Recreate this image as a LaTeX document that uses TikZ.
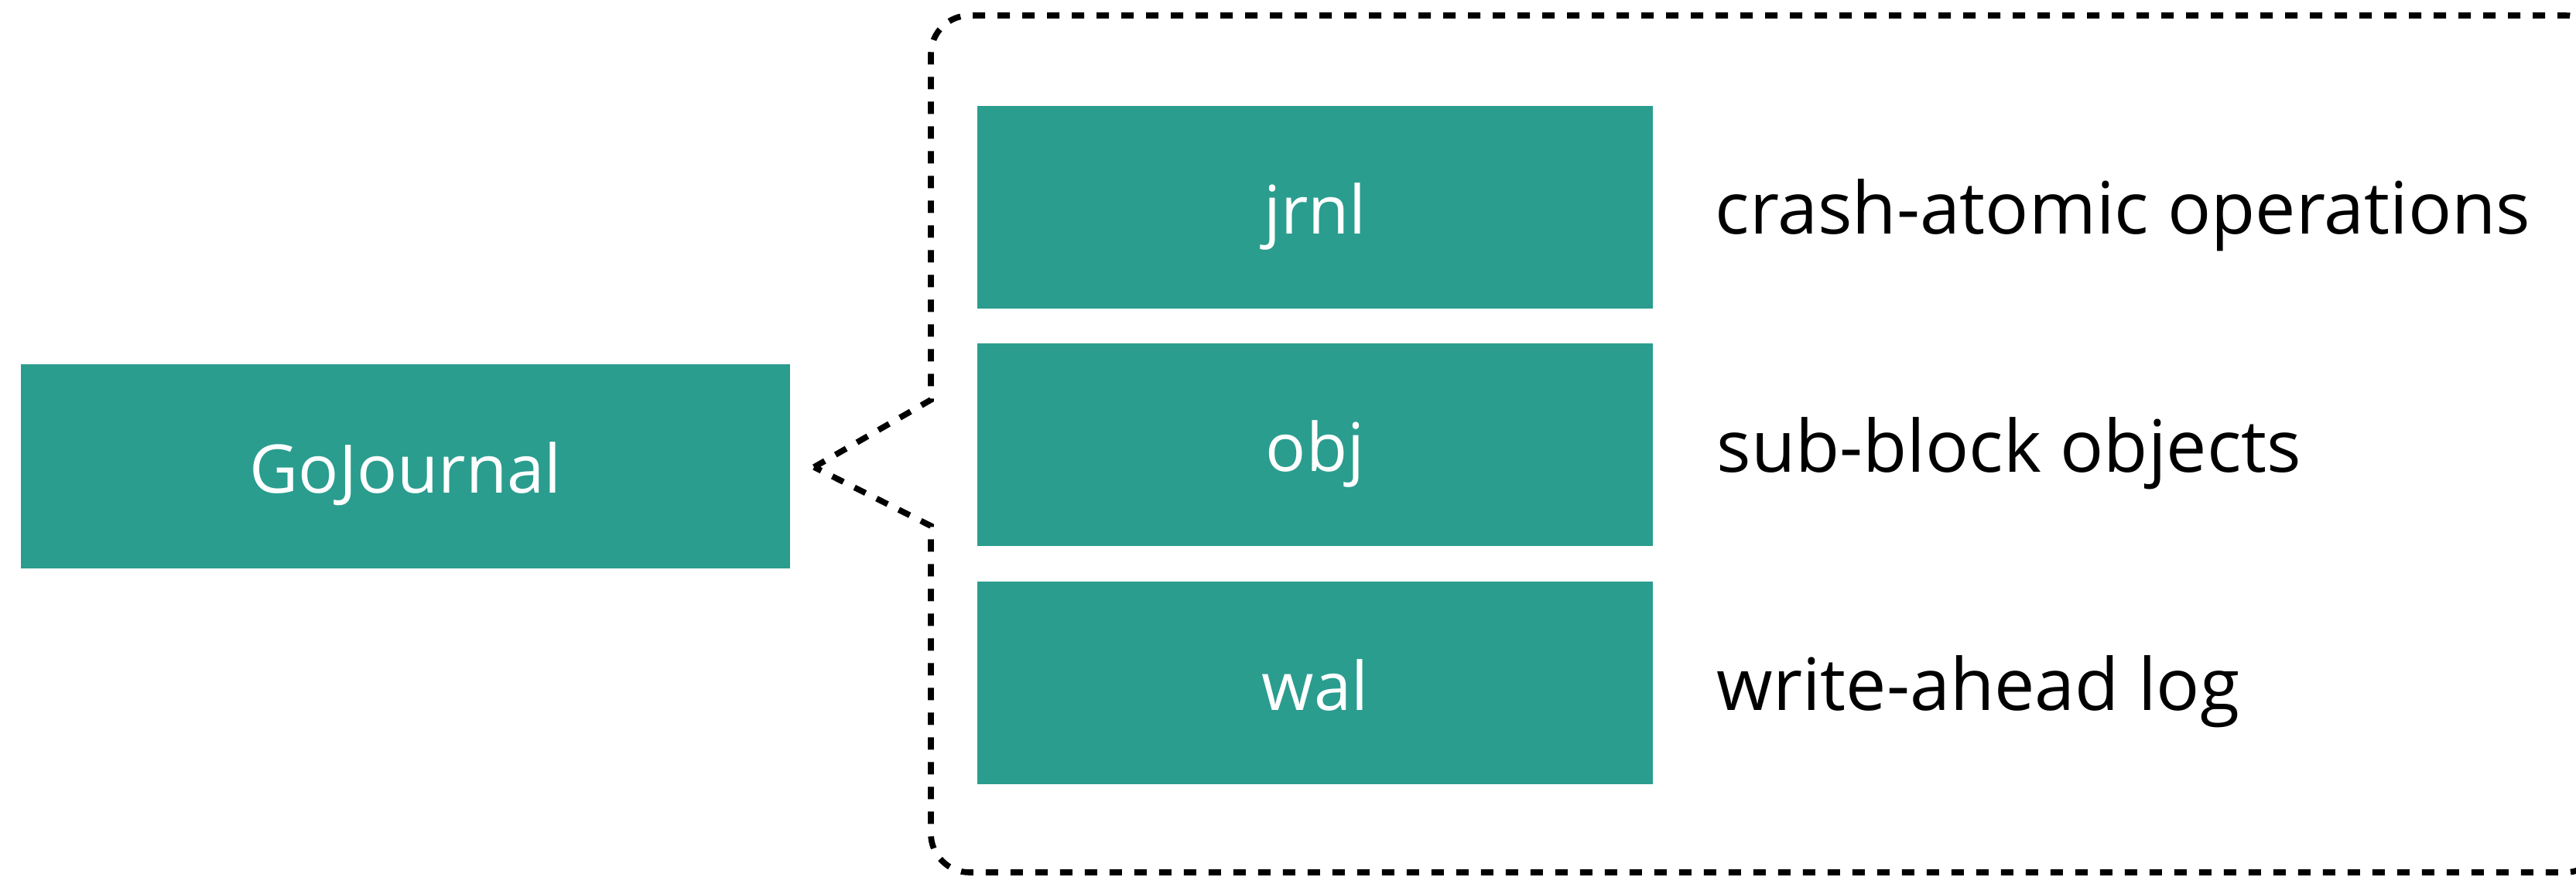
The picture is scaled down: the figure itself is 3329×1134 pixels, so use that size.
\documentclass[tikz,border=0pt]{standalone}
\usepackage{fontspec}
\setmainfont{Open Sans}
\usepackage{xcolor}
\definecolor{teal}{HTML}{2A9D8F}

\tikzset{
  block/.style={fill=teal, text=white, minimum width=873*0.3pt, minimum height=262*0.3pt, inner sep=0pt, text height=21pt, text depth=0pt, font=\fontsize{26}{31}\selectfont},
  note/.style={anchor=base west, inner sep=0pt, font=\fontsize{28}{34}\selectfont},
  bracket/.style={line width=2.3pt, dash pattern=on 4.8pt off 4.8pt}
}

\begin{document}
\begin{tikzpicture}[x=0.3pt,y=0.3pt,yscale=-1,xscale=1]
\useasboundingbox (0,0) rectangle (3329,1134);
\clip (0,0) rectangle (3329,1134);

% Shape: outer box
\node [block, minimum width=994*0.3pt, minimum height=264*0.3pt] (go) at (524,603) {GoJournal};

% Shape: inner stack
\node [block] (jrnl) at (1699.5,268) {jrnl};
\node [block] (obj) at (1699.5,575) {obj};
\node [block] (wal) at (1699.5,883) {wal};

% Text Node
\node [note] (jrnlnote) at (2216,303) {crash-atomic operations};
\node [note] (objnote) at (2218,610) {sub-block objects};
\node [note] (walnote) at (2218,918) {write-ahead log};

% Dashed bracket round the stack
\coordinate (tip) at (1052,604);
\coordinate (upper) at (1203,517);
\coordinate (lower) at (1203,680);
\draw [bracket] (tip) -- (upper)
  {[rounded corners=15pt] -- (1203,20) -- (3365,20) -- (3365,1128) -- (1203,1128)} -- (lower) -- cycle;
\end{tikzpicture}
\end{document}
